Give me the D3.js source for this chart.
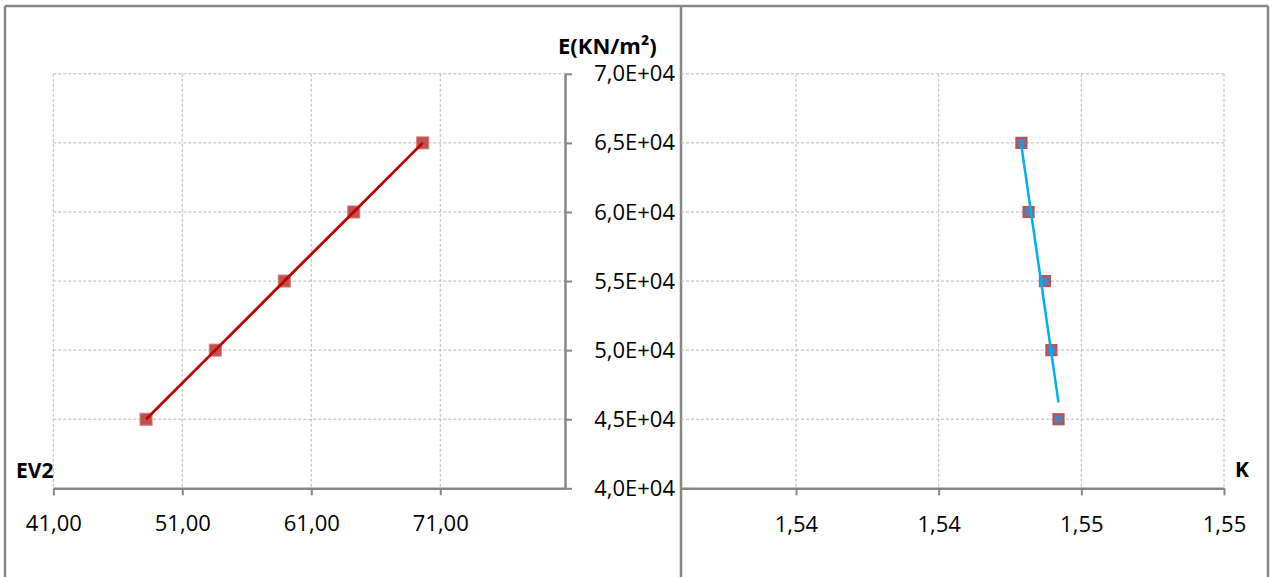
<!DOCTYPE html>
<html>
<head>
<meta charset="utf-8">
<script src="https://cdn.jsdelivr.net/npm/d3@7"></script>
<style>
  html, body { margin: 0; padding: 0; background: #fff; }
  svg { display: block; font-family: "Open Sans", "Noto Sans", sans-serif; }
</style>
</head>
<body>
<svg id="chart" width="1272" height="577"></svg>
<script>
// ---- data ----
const eValues = [45000, 50000, 55000, 60000, 65000];          // E (KN/m²)
const ev2Values = [48.19, 53.56, 58.91, 64.29, 69.64];        // EV2
const kValues = [1.54568, 1.54558, 1.54549, 1.54526, 1.54516]; // K

const yTicks = [40000, 45000, 50000, 55000, 60000, 65000, 70000];
const yTickLabels = ["4,0E+04", "4,5E+04", "5,0E+04", "5,5E+04", "6,0E+04", "6,5E+04", "7,0E+04"];
const ev2Ticks = [41, 51, 61, 71];
const ev2TickLabels = ["41,00", "51,00", "61,00", "71,00"];
const kTicks = [1.542, 1.544, 1.546, 1.548];
const kTickLabels = ["1,54", "1,54", "1,55", "1,55"];

const yDomain = [40000, 70000];
const ev2Domain = [41, 80.67];
const kDomain = [1.540388, 1.548];

// ---- layout ----
const svg = d3.select("#chart");
const axisColor = "#868686";
const gridColor = "#b9b9b9";

const y = d3.scaleLinear().domain(yDomain).range([488.3, 73.8]);
const xL = d3.scaleLinear().domain(ev2Domain).range([53.3, 565]);
const xR = d3.scaleLinear().domain(kDomain).range([681, 1224]);

// frame
const frame = svg.append("g").attr("fill", "none").attr("stroke", axisColor).attr("stroke-width", 2.5);
frame.append("line").attr("x1", 5).attr("x2", 1268).attr("y1", 6).attr("y2", 6);
frame.append("line").attr("x1", 5).attr("x2", 5).attr("y1", 6).attr("y2", 577);
frame.append("line").attr("x1", 1268).attr("x2", 1268).attr("y1", 6).attr("y2", 577);
frame.append("line").attr("x1", 681).attr("x2", 681).attr("y1", 6).attr("y2", 577);

// gridlines
const grid = svg.append("g").attr("stroke", gridColor).attr("stroke-width", 1).attr("stroke-dasharray", "3,2");
grid.selectAll(".hl").data(yTicks.slice(1)).join("line")
  .attr("x1", xL.range()[0]).attr("x2", xL.range()[1])
  .attr("y1", d => y(d)).attr("y2", d => y(d));
grid.selectAll(".vl").data(ev2Ticks).join("line").attr("class", "vl")
  .attr("x1", d => xL(d)).attr("x2", d => xL(d))
  .attr("y1", y.range()[1]).attr("y2", y.range()[0]);
grid.selectAll(".hr").data(yTicks.slice(1)).join("line").attr("class", "hr")
  .attr("x1", xR.range()[0]).attr("x2", xR.range()[1])
  .attr("y1", d => y(d)).attr("y2", d => y(d));
grid.selectAll(".vr").data(kTicks).join("line").attr("class", "vr")
  .attr("x1", d => xR(d)).attr("x2", d => xR(d))
  .attr("y1", y.range()[1]).attr("y2", y.range()[0]);

function styleAxis(g) {
  g.select(".domain").attr("stroke", axisColor).attr("stroke-width", 2.5);
  g.selectAll(".tick line").attr("stroke", axisColor).attr("stroke-width", 2);
  g.selectAll(".tick text").attr("fill", "#000").attr("font-size", "22px")
    .attr("font-family", "'Open Sans', 'Noto Sans', sans-serif");
}

// left x axis
const axL = svg.append("g").attr("transform", `translate(0,${y(yDomain[0])})`)
  .call(d3.axisBottom(xL).tickValues(ev2Ticks).tickSize(7).tickSizeOuter(0)
    .tickFormat((d, i) => ev2TickLabels[i]));
styleAxis(axL);
axL.selectAll(".tick text").attr("y", 27).attr("dy", "0.71em");

// right x axis
const axR = svg.append("g").attr("transform", `translate(0,${y(yDomain[0])})`)
  .call(d3.axisBottom(xR).tickValues(kTicks).tickSize(7).tickSizeOuter(0)
    .tickFormat((d, i) => kTickLabels[i]));
styleAxis(axR);
axR.selectAll(".tick text").attr("y", 28).attr("dy", "0.71em");

// y axis (between the two panels)
const axY = svg.append("g").attr("transform", `translate(${xL.range()[1]},0)`)
  .call(d3.axisRight(y).tickValues(yTicks).tickSize(7).tickSizeOuter(0)
    .tickFormat((d, i) => yTickLabels[i]));
styleAxis(axY);
axY.selectAll(".tick text").attr("text-anchor", "end").attr("x", 110);

// axis titles
const titles = svg.append("g").attr("font-weight", "bold").attr("font-size", "21px").attr("fill", "#000");
titles.append("text").attr("x", 558).attr("y", 54).attr("font-size", "22px").text("E(KN/m²)");
titles.append("text").attr("x", 16).attr("y", 478).text("EV2");
titles.append("text").attr("x", 1235).attr("y", 477).text("K");

// left series: markers + line
const leftPts = eValues.map((e, i) => ({ x: ev2Values[i], y: e }));
const ms = 12;
svg.append("g").selectAll("rect").data(leftPts).join("rect")
  .attr("x", d => xL(d.x) - ms / 2).attr("y", d => y(d.y) - ms / 2)
  .attr("width", ms).attr("height", ms)
  .attr("fill", "#c0504d").attr("stroke", "#d47a78").attr("stroke-width", 1);
svg.append("path").datum(leftPts)
  .attr("fill", "none").attr("stroke", "#c00000").attr("stroke-width", 2.8)
  .attr("d", d3.line().x(d => xL(d.x)).y(d => y(d.y)));

// right series: markers + linear trendline
const rightPts = eValues.map((e, i) => ({ x: kValues[i], y: e }));
svg.append("g").selectAll("rect").data(rightPts).join("rect")
  .attr("x", d => xR(d.x) - ms / 2 + 1).attr("y", d => y(d.y) - ms / 2 + 1)
  .attr("width", ms - 2).attr("height", ms - 2)
  .attr("fill", "#4f81bd").attr("stroke", "#c0504d").attr("stroke-width", 2.2);

// least squares fit of E on K (Excel linear trendline)
const mx = d3.mean(rightPts, d => d.x), my = d3.mean(rightPts, d => d.y);
const sxy = d3.sum(rightPts, d => (d.x - mx) * (d.y - my));
const sxx = d3.sum(rightPts, d => (d.x - mx) ** 2);
const slope = sxy / sxx, icpt = my - slope * mx;
const [kMin, kMax] = d3.extent(kValues);
const trend = [kMin, kMax].map(k => ({ x: k, y: icpt + slope * k }));
svg.append("path").datum(trend)
  .attr("fill", "none").attr("stroke", "#00b0f0").attr("stroke-width", 2.5)
  .attr("d", d3.line().x(d => xR(d.x)).y(d => y(d.y)));
</script>
</body>
</html>
